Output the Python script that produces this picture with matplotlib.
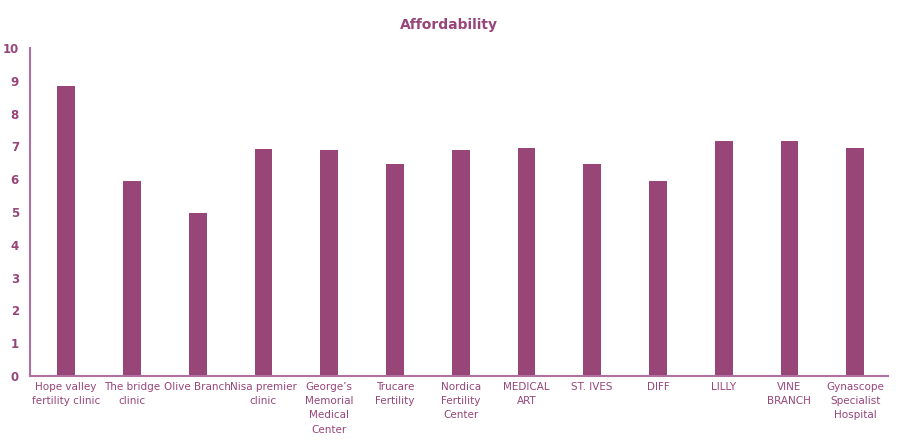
import matplotlib.pyplot as plt

# Data
clinics = [
    "Hope valley\nfertility clinic",
    "The bridge\nclinic",
    "Olive Branch",
    "Nisa premier\nclinic",
    "George\u2019s\nMemorial\nMedical\nCenter",
    "Trucare\nFertility",
    "Nordica\nFertility\nCenter",
    "MEDICAL\nART",
    "ST. IVES",
    "DIFF",
    "LILLY",
    "VINE\nBRANCH",
    "Gynascope\nSpecialist\nHospital",
]
scores = [8.85, 5.93, 4.97, 6.93, 6.9, 6.46, 6.9, 6.96, 6.46, 5.94, 7.17, 7.17, 6.96]
y_ticks = list(range(0, 11))

bar_color = "#984577"
text_color = "#97457A"
axis_color = "#B070A0"

fig = plt.figure(figsize=(8.97, 4.42), dpi=100)
ax = fig.add_axes([30 / 897, 66 / 442, 858 / 897, 328 / 442])

x = list(range(len(clinics)))
ax.bar(x, scores, width=0.27, color=bar_color)

ax.set_xlim(-0.55, 12.5)
ax.set_ylim(0, 10)
ax.set_yticks(y_ticks)
ax.set_xticks(x)
ax.set_xticklabels(clinics, fontsize=7.5, color=text_color, linespacing=1.55)
ax.tick_params(axis="y", length=0, pad=8, labelsize=8.5, labelcolor=text_color)
ax.tick_params(axis="x", length=0, pad=4)
for lbl in ax.get_yticklabels():
    lbl.set_fontweight("bold")

for side in ["top", "right"]:
    ax.spines[side].set_visible(False)
for side in ["left", "bottom"]:
    ax.spines[side].set_color(axis_color)
    ax.spines[side].set_linewidth(1.5)

fig.text(449 / 897, 1 - 25 / 442, "Affordability", ha="center", va="center",
         fontsize=10, fontweight="bold", color=text_color)

fig.savefig("out.png", dpi=100)
